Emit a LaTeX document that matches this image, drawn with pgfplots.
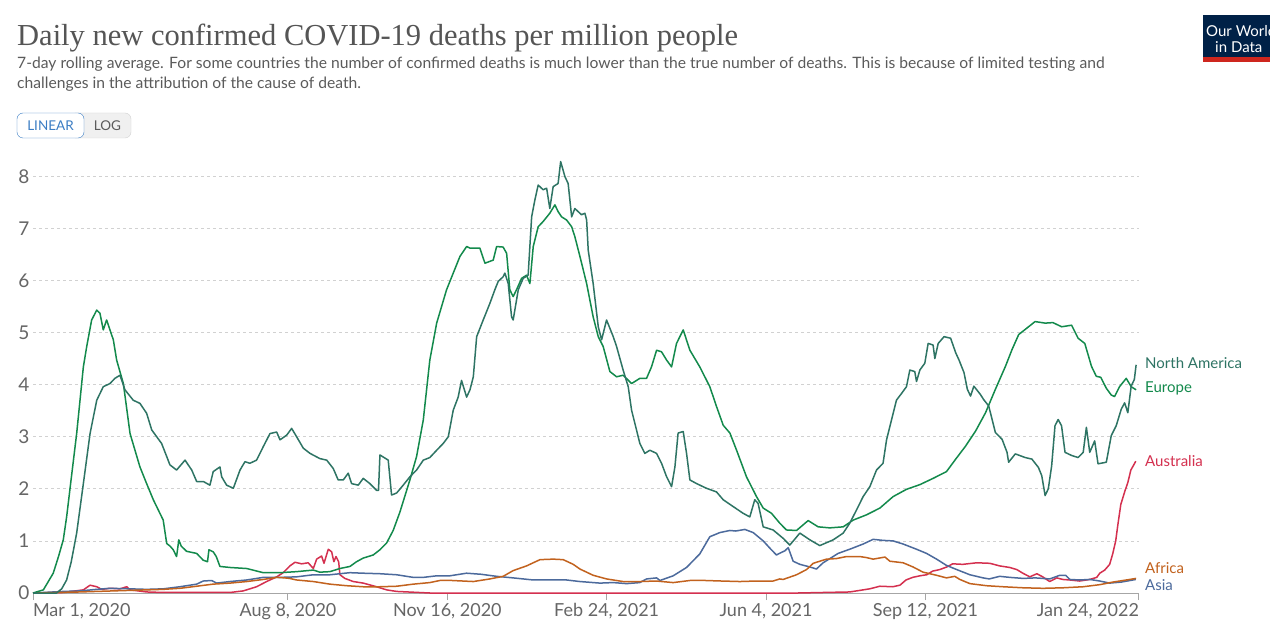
\documentclass[border=0pt]{standalone}
\usepackage{pgfplots}
\pgfplotsset{compat=1.18}
\usepackage{fontspec}
\setmainfont{Lato}
\newfontfamily\titlefont{Liberation Serif}
\definecolor{cNA}{HTML}{2E7464}
\definecolor{cEU}{HTML}{138A4C}
\definecolor{cAU}{HTML}{D4304F}
\definecolor{cAF}{HTML}{C2621E}
\definecolor{cAS}{HTML}{4C6A9C}
\definecolor{txtgrey}{HTML}{5B5B5B}
\definecolor{titlegrey}{HTML}{555555}
\definecolor{tickgrey}{HTML}{666666}
\definecolor{owidnavy}{HTML}{002147}
\definecolor{owidred}{HTML}{CE261E}
\definecolor{btnblue}{HTML}{3B7DC4}
\begin{document}
\begin{tikzpicture}[x=1pt,y=1pt]
\useasboundingbox[fill=white] (0,0) rectangle (1270,641);
% title & subtitle
\node[anchor=base west, inner sep=0, text=titlegrey] at (17,595) {\titlefont\fontsize{30.5}{34}\selectfont Daily new confirmed COVID-19 deaths per million people};
\node[anchor=base west, inner sep=0, text=txtgrey] at (17,572) {\fontsize{15.65}{18}\selectfont 7-day rolling average. For some countries the number of confirmed deaths is much lower than the true number of deaths. This is because of limited testing and};
\node[anchor=base west, inner sep=0, text=txtgrey] at (17,552) {\fontsize{15.65}{18}\selectfont challenges in the attribution of the cause of death.};
% buttons
\draw[fill=black!6, draw=black!18, rounded corners=6pt] (70,503) rectangle (131,528);
\draw[fill=white, draw=btnblue, rounded corners=6pt] (17,503) rectangle (84,528);
\node[text=btnblue, inner sep=0] at (50.5,515.5) {\fontsize{13.5}{15}\selectfont LINEAR};
\node[text=txtgrey, inner sep=0] at (107.5,515.5) {\fontsize{13.5}{15}\selectfont LOG};
% logo
\fill[owidnavy] (1203,579) rectangle (1275,626);
\fill[owidred] (1203,579) rectangle (1275,584);
\node[anchor=base west, inner sep=0, text=white] at (1206,604) {\fontsize{15}{17}\selectfont Our World};
\node[anchor=base west, inner sep=0, text=white] at (1215,588) {\fontsize{15}{17}\selectfont in Data};
\begin{scope}[shift={(33pt,48pt)}]
\begin{axis}[
  at={(0pt,0pt)}, anchor=origin,
  scale only axis, width=1106pt, height=437.64pt,
  xmin=0, xmax=694, ymin=0, ymax=8.4,
  axis lines*=left,
  x axis line style={draw=black!35, line width=1pt},
  y axis line style={draw=none},
  ytick={0,1,2,3,4,5,6,7,8},
  ytick style={draw=none},
  ymajorgrids,
  grid style={dashed, dash pattern=on 3pt off 3pt, draw=black!18, line width=0.8pt},
  xtick={0,160,260,360,460,560,694},
  xticklabels={{\makebox[0pt][l]{Mar 1, 2020}},{Aug 8, 2020},{Nov 16, 2020},{Feb 24, 2021},{Jun 4, 2021},{Sep 12, 2021},{\makebox[0pt][r]{Jan 24, 2022}}},
  xtick align=outside,
  major tick length=7pt,
  xtick style={draw=black!35, line width=1pt},
  xticklabel style={font=\fontsize{18}{20}\selectfont, text=tickgrey},
  yticklabel style={font=\fontsize{19}{20}\selectfont, text=tickgrey},
  /pgf/number format/assume math mode=true,
  clip=false,
  every axis plot/.append style={line width=1.5pt, line join=round, mark=none},
]
% Australia
\addplot[cAU] coordinates {(0,0) (19,0.01) (31.6,0.06) (35.8,0.15) (40,0.12) (43.1,0.07) (48.3,0.09) (54.6,0.08) (58.8,0.12) (60.9,0.06) (71.3,0.02) (81.7,0.01) (123.6,0.01) (131.9,0.04) (140.3,0.12) (146.6,0.22) (152.9,0.31) (157,0.39) (161.2,0.52) (164.4,0.59) (168.6,0.56) (172.7,0.58) (175.9,0.47) (178,0.65) (181.1,0.71) (182.6,0.57) (185.3,0.84) (187.4,0.79) (188.8,0.60) (190.1,0.70) (191.8,0.60) (192.6,0.35) (195.7,0.28) (201,0.22) (207.2,0.19) (215.6,0.12) (221.9,0.06) (228.2,0.03) (249,0.0) (480,0.0) (512.5,0.02) (518.8,0.05) (525,0.08) (531.4,0.13) (539.5,0.12) (544,0.15) (547.8,0.25) (552,0.30) (556.5,0.33) (560.8,0.35) (564.5,0.42) (569,0.45) (573.4,0.50) (577.1,0.56) (583.4,0.55) (592.2,0.58) (600.4,0.57) (606.6,0.52) (612.9,0.49) (617.3,0.45) (621.1,0.38) (625.5,0.31) (629.9,0.37) (633.6,0.31) (638,0.22) (642.4,0.29) (646.2,0.26) (650.6,0.25) (656.8,0.23) (663.1,0.26) (667.5,0.30) (669.4,0.38) (672.5,0.44) (675.6,0.55) (677.5,0.75) (679.4,1.0) (680.7,1.30) (682.6,1.70) (685.1,1.95) (687,2.12) (688.9,2.36) (692,2.53)};
% Asia
\addplot[cAS] coordinates {(0,0) (19,0.03) (29.5,0.04) (40,0.07) (48.3,0.09) (60.9,0.08) (71.3,0.07) (81.7,0.08) (92.2,0.12) (102.7,0.17) (106.8,0.23) (112.1,0.24) (115.2,0.19) (123.6,0.22) (134.1,0.25) (144.5,0.30) (155,0.30) (165.4,0.31) (175.9,0.35) (186.3,0.35) (198.9,0.39) (207.2,0.38) (217.7,0.37) (228.2,0.35) (238.6,0.30) (244.9,0.30) (253.3,0.33) (261.6,0.33) (272,0.38) (281,0.36) (290.9,0.32) (301.3,0.29) (313.9,0.25) (324,0.25) (334.8,0.25) (343.2,0.22) (355.7,0.19) (364.1,0.20) (372.5,0.18) (380.8,0.20) (385,0.27) (391.3,0.29) (393.4,0.24) (401.7,0.33) (410.1,0.49) (418.4,0.75) (424.7,1.08) (431,1.16) (437.3,1.20) (441,1.19) (446.7,1.22) (451.9,1.16) (458.2,1.0) (462.4,0.86) (466.5,0.73) (469,0.77) (471.8,0.81) (473.9,0.87) (477,0.61) (481.2,0.55) (487.5,0.50) (491.6,0.46) (495.8,0.58) (500,0.66) (505.2,0.76) (512.5,0.84) (520.9,0.94) (527.2,1.03) (533.4,1.01) (539.7,1.0) (546,0.94) (554.4,0.84) (560.7,0.76) (567,0.65) (573.2,0.53) (579.6,0.45) (587.9,0.35) (596.2,0.29) (600,0.27) (606.6,0.32) (612.9,0.30) (621.3,0.28) (629,0.29) (638,0.27) (644.3,0.34) (648,0.34) (650.6,0.26) (656.8,0.25) (663.1,0.26) (669.4,0.23) (675.6,0.19) (683,0.21) (692,0.26)};
% Africa
\addplot[cAF] coordinates {(0,0) (29.5,0.02) (50,0.04) (71.3,0.06) (81.7,0.07) (92.2,0.09) (102.7,0.13) (113,0.17) (123.6,0.19) (134.1,0.22) (144.5,0.26) (152.9,0.30) (158,0.29) (161,0.28) (165.4,0.25) (175.9,0.22) (186.3,0.17) (196.8,0.14) (207.2,0.12) (217.7,0.12) (228.2,0.13) (238.6,0.17) (249,0.20) (255.3,0.24) (263,0.24) (276.3,0.22) (286.7,0.27) (295,0.32) (301.3,0.43) (309.7,0.52) (318.1,0.64) (326.4,0.65) (332.7,0.64) (339,0.55) (343.2,0.46) (351.5,0.34) (359.9,0.27) (370.3,0.22) (380.8,0.22) (391,0.23) (401.7,0.20) (412.2,0.24) (422,0.24) (432,0.23) (443.5,0.22) (454,0.23) (464.4,0.23) (468.6,0.27) (470.7,0.26) (479.1,0.35) (485.4,0.45) (489.6,0.57) (493.7,0.61) (497.9,0.65) (504,0.66) (510.5,0.70) (518.8,0.70) (523,0.68) (527.2,0.65) (534.6,0.69) (537.7,0.61) (546,0.58) (552.2,0.50) (558.5,0.40) (567,0.34) (573.2,0.29) (578.4,0.32) (581.6,0.26) (587.9,0.18) (598.3,0.14) (608.7,0.12) (621.3,0.10) (633.8,0.09) (646.3,0.10) (658.9,0.12) (669.4,0.16) (677.7,0.21) (686.1,0.25) (692.2,0.28)};
% Europe
\addplot[cEU] coordinates {(0,0) (6.5,0.06) (12.7,0.38) (16,0.7) (19,1.02) (21.1,1.46) (24,2.2) (27.4,3.06) (31.6,4.34) (33.7,4.73) (36.8,5.24) (40,5.43) (42,5.37) (44.1,5.05) (46.2,5.24) (50.4,4.86) (52.5,4.47) (56.7,4.02) (60.9,3.06) (67.1,2.42) (71.3,2.1) (75.5,1.79) (81.7,1.40) (83.9,0.95) (86,0.9) (88,0.83) (90.1,0.70) (91.5,1.02) (93,0.9) (96.4,0.8) (102.7,0.76) (106.8,0.63) (109.5,0.60) (110.4,0.83) (113.1,0.79) (115,0.70) (117.3,0.51) (123.6,0.49) (134.1,0.47) (144.5,0.39) (155,0.39) (165.4,0.41) (175.9,0.44) (180,0.40) (186.3,0.41) (192.6,0.47) (198.9,0.51) (203,0.60) (207.2,0.67) (213.5,0.73) (217.7,0.83) (221.9,0.96) (226,1.2) (230.2,1.55) (236.5,2.17) (240.7,2.62) (244.9,3.32) (249,4.47) (253.3,5.18) (259.5,5.82) (263.7,6.14) (267.9,6.46) (272.1,6.65) (274.2,6.62) (280.4,6.62) (283.6,6.33) (288.8,6.39) (290.9,6.65) (295,6.64) (297.2,6.52) (299.2,5.82) (301.3,5.69) (303.4,5.82) (306.6,6.04) (309.7,6.10) (311.8,5.94) (313.9,6.65) (317,7.03) (320.1,7.13) (324.3,7.29) (327.5,7.45) (329.5,7.32) (331.7,7.22) (334.8,7.16) (338,7.03) (340,6.84) (343.2,6.46) (347.4,5.94) (351.5,5.30) (354.7,4.92) (357.8,4.73) (362,4.25) (366.2,4.15) (370.3,4.18) (375.6,4.02) (380.8,4.12) (385,4.12) (388.1,4.34) (391.3,4.66) (394.4,4.63) (397.6,4.47) (400.7,4.34) (403.8,4.79) (408,5.05) (412.2,4.66) (418.4,4.34) (424.7,3.96) (428.9,3.58) (433.1,3.22) (437.3,3.07) (441.5,2.74) (447.7,2.23) (454,1.85) (458.2,1.63) (463.4,1.53) (468.6,1.34) (472.8,1.21) (479.1,1.20) (486.4,1.39) (492.7,1.27) (500,1.25) (508.4,1.27) (514.7,1.40) (523,1.50) (531.4,1.63) (539.7,1.85) (548.1,1.99) (556.5,2.08) (564.8,2.20) (573.2,2.33) (579,2.57) (585.2,2.82) (591.5,3.11) (597.7,3.46) (603.9,3.91) (610.2,4.35) (614.3,4.67) (618.5,4.96) (624.7,5.11) (628.8,5.21) (635.1,5.18) (640,5.19) (645.5,5.11) (651.7,5.14) (655.8,4.89) (660,4.79) (664.2,4.35) (667.2,4.16) (670,4.14) (673.5,3.93) (676.6,3.80) (678.7,3.77) (681.8,3.96) (686,4.12) (689.1,3.96) (692.2,3.90)};
% North America
\addplot[cNA] coordinates {(0,0) (14.8,0) (18,0.08) (21.1,0.25) (24,0.6) (27.4,1.15) (31.6,2.10) (35.8,3.06) (40,3.70) (44.1,3.96) (48.3,4.02) (51.4,4.12) (54.6,4.18) (57.7,3.90) (62.9,3.70) (67.1,3.64) (71.3,3.45) (74.5,3.13) (77.6,3.0) (80.7,2.87) (83.9,2.62) (85.9,2.46) (90.1,2.36) (95.4,2.55) (99.6,2.36) (102.7,2.14) (106.9,2.14) (111,2.07) (113.1,2.33) (117.3,2.42) (118.4,2.23) (121.5,2.07) (125.7,2.01) (129.9,2.36) (133,2.52) (136.1,2.49) (140.3,2.55) (144.5,2.81) (148.7,3.06) (152.9,3.09) (155,2.94) (159.2,3.03) (162.3,3.16) (165.4,3.0) (169.6,2.78) (173.8,2.68) (180,2.58) (184.3,2.55) (188.4,2.39) (191.5,2.17) (194.7,2.17) (197.8,2.30) (199.9,2.10) (204.1,2.07) (207.2,2.20) (211.4,2.10) (215.6,1.97) (216.8,1.97) (217.7,2.65) (222.9,2.55) (225,1.88) (228.2,1.92) (232.3,2.07) (236.5,2.23) (240.7,2.36) (244.9,2.55) (249,2.6) (253.3,2.74) (257.4,2.87) (260.6,3.0) (263.7,3.51) (266.8,3.76) (268.9,4.08) (272.1,3.76) (274.2,3.90) (276.3,4.15) (278.4,4.92) (282.5,5.24) (286.7,5.56) (289.8,5.82) (291.9,5.98) (295,6.07) (296.1,6.14) (298.2,5.94) (300.3,5.30) (301.3,5.24) (304.5,5.82) (307.6,6.04) (310.7,6.10) (312.9,7.22) (314.9,7.54) (317,7.83) (320.1,7.74) (322.3,7.77) (324.3,7.38) (326.4,7.80) (329.5,7.86) (331.1,8.28) (333.8,7.99) (335.8,7.86) (338,7.22) (340,7.38) (342.1,7.32) (344.2,7.26) (346.3,7.29) (347.4,7.16) (348.4,6.58) (351.5,5.94) (354.7,5.11) (356.8,4.86) (359.9,5.24) (364.1,4.92) (366.2,4.73) (370.3,4.28) (373.5,3.96) (375.6,3.51) (378.7,3.13) (380.8,2.87) (383.9,2.68) (387.1,2.74) (391.3,2.68) (394.4,2.49) (397.6,2.23) (400.7,2.04) (402.8,2.42) (404.8,3.07) (408,3.10) (410.1,2.68) (412.2,2.17) (416.4,2.10) (422.6,2.01) (428.9,1.94) (433.1,1.79) (439.3,1.66) (445.6,1.53) (449.8,1.46) (452.9,1.79) (455,1.72) (458.2,1.27) (464.4,1.21) (470.7,1.05) (474.9,0.92) (481.2,1.15) (487.5,1.02) (493.7,0.91) (502.1,1.02) (508.4,1.15) (512.5,1.34) (516.7,1.59) (520.9,1.85) (525.1,2.04) (529.3,2.36) (533.4,2.49) (535.6,2.94) (538.7,3.32) (541.8,3.70) (545,3.83) (548.1,3.96) (550.2,4.28) (553.3,4.25) (554.4,4.06) (556.5,4.28) (559.6,4.41) (561.7,4.79) (564.8,4.76) (565.9,4.50) (568,4.79) (571.7,4.92) (575.8,4.89) (579,4.61) (581.1,4.47) (584.2,4.23) (586.3,3.91) (588.3,3.78) (590.4,3.97) (594.5,3.81) (596.6,3.71) (599.7,3.59) (603.9,3.08) (608.1,2.95) (611.2,2.70) (612.2,2.51) (616.4,2.67) (622.6,2.60) (626.8,2.57) (630.9,2.41) (633,2.25) (635.1,1.87) (637.1,2.00) (639.2,2.44) (641.3,3.21) (643.3,3.33) (645.4,3.21) (647.6,2.70) (651.7,2.64) (655.8,2.60) (659,2.70) (661,3.18) (663.1,2.70) (666.2,2.92) (668.3,2.48) (673.5,2.51) (676.6,3.02) (679.7,3.21) (682.9,3.53) (685,3.65) (687,3.46) (689.1,3.97) (691.1,4.10) (692.2,4.38)};
\end{axis}
\end{scope}
% series labels
\node[anchor=west, inner sep=0, text=cNA] at (1145,278) {\fontsize{15}{18}\selectfont North America};
\node[anchor=west, inner sep=0, text=cEU] at (1145,253) {\fontsize{15}{18}\selectfont Europe};
\node[anchor=west, inner sep=0, text=cAU] at (1145,180) {\fontsize{15}{18}\selectfont Australia};
\node[anchor=west, inner sep=0, text=cAF] at (1145,73) {\fontsize{15}{18}\selectfont Africa};
\node[anchor=west, inner sep=0, text=cAS] at (1145,56) {\fontsize{15}{18}\selectfont Asia};
\end{tikzpicture}
\end{document}
